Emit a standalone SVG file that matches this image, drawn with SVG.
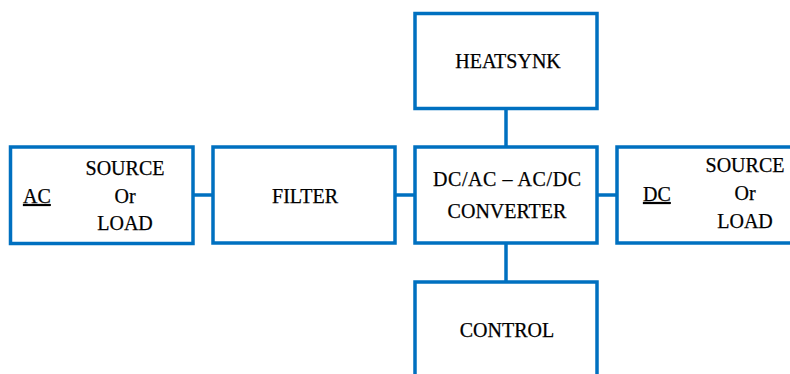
<svg xmlns="http://www.w3.org/2000/svg" width="790" height="374" viewBox="0 0 790 374">
  <style>
    .box { fill: #ffffff; stroke: #0070C0; stroke-width: 3.5; }
    .link { stroke: #0070C0; stroke-width: 3.5; fill: none; }
    .lbl { font-family: "Liberation Serif", "Times New Roman", serif; font-size: 20px; fill: #000000; stroke: #000000; stroke-width: 0.25; text-anchor: middle; }
    .tag { text-decoration: underline; text-anchor: start; }
  </style>
  <rect width="790" height="374" fill="#ffffff"/>

  <!-- wiring between blocks -->
  <g id="connectors">
    <line class="link" x1="193" y1="195" x2="213" y2="195"/>
    <line class="link" x1="395" y1="195" x2="415" y2="195"/>
    <line class="link" x1="597" y1="195" x2="617" y2="195"/>
    <line class="link" x1="506" y1="108" x2="506" y2="147"/>
    <line class="link" x1="506" y1="243" x2="506" y2="282"/>
  </g>

  <g id="ac-source">
    <rect class="box" x="10.5" y="147" width="182.5" height="96.5"/>
    <text class="lbl tag" x="23" y="203">AC</text>
    <text class="lbl" x="125" y="175">SOURCE</text>
    <text class="lbl" x="125" y="203">Or</text>
    <text class="lbl" x="125" y="230">LOAD</text>
  </g>

  <g id="filter">
    <rect class="box" x="213" y="147" width="182" height="96"/>
    <text class="lbl" x="305" y="203">FILTER</text>
  </g>

  <g id="converter">
    <rect class="box" x="415" y="147" width="182" height="96"/>
    <text class="lbl" x="507" y="186" textLength="148">DC/AC – AC/DC</text>
    <text class="lbl" x="507" y="218">CONVERTER</text>
  </g>

  <g id="heatsink">
    <rect class="box" x="415" y="13.5" width="182" height="95"/>
    <text class="lbl" x="508" y="68">HEATSYNK</text>
  </g>

  <g id="control">
    <rect class="box" x="415" y="282" width="182" height="120"/>
    <text class="lbl" x="507" y="337">CONTROL</text>
  </g>

  <g id="dc-source">
    <rect class="box" x="617" y="147" width="200" height="96"/>
    <text class="lbl tag" x="643" y="201">DC</text>
    <text class="lbl" x="745" y="172">SOURCE</text>
    <text class="lbl" x="745" y="200">Or</text>
    <text class="lbl" x="745" y="228">LOAD</text>
  </g>
</svg>
